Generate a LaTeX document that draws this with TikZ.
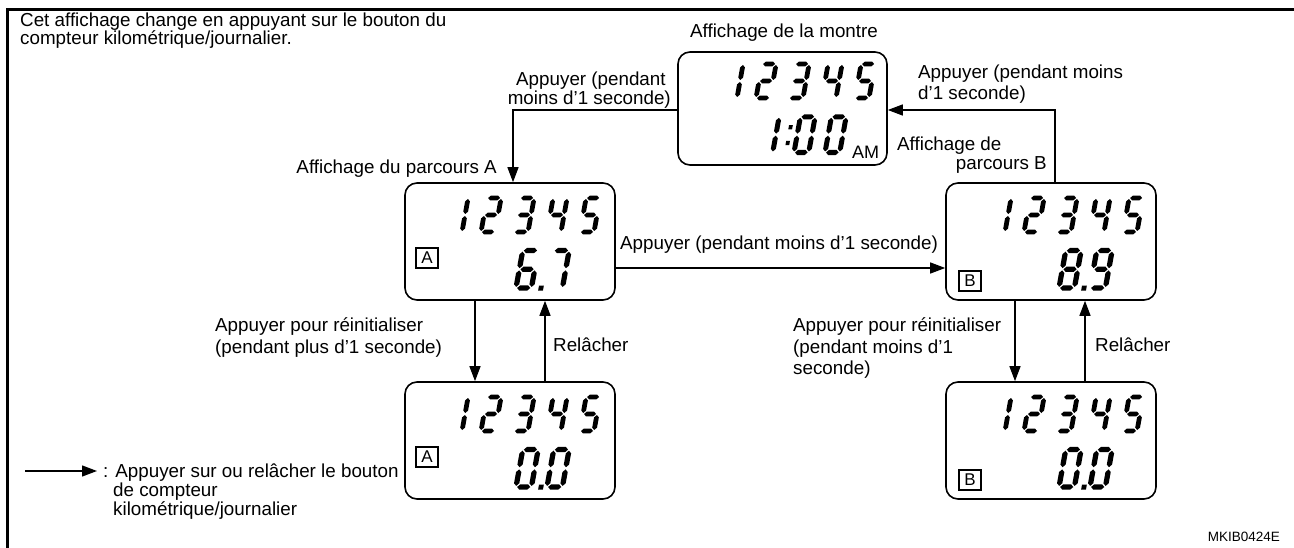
\documentclass[tikz,border=0pt]{standalone}
\usepackage{fontspec}
\setmainfont{Liberation Sans}
\usetikzlibrary{arrows.meta}

% --- seven-segment glyphs (local units, y up, origin = bottom-left corner line) ---
\newcommand\hseg[3]{\fill (#1,#3) -- ({#1+2.4},{#3+2.4}) -- ({#2-2.4},{#3+2.4}) -- (#2,#3) -- ({#2-2.4},{#3-2.4}) -- ({#1+2.4},{#3-2.4}) -- cycle;}
\newcommand\vseg[3]{\fill (#1,#2) -- ({#1+2.4},{#2+2.4}) -- ({#1+2.4},{#3-2.4}) -- (#1,#3) -- ({#1-2.4},{#3-2.4}) -- ({#1-2.4},{#2+2.4}) -- cycle;}
\newcommand\sgA{\hseg{1}{13}{34}}
\newcommand\sgB{\vseg{14}{18}{33}}
\newcommand\sgC{\vseg{14}{1}{16}}
\newcommand\sgD{\hseg{1}{13}{0}}
\newcommand\sgE{\vseg{0}{1}{16}}
\newcommand\sgF{\vseg{0}{18}{33}}
\newcommand\sgG{\hseg{1}{13}{17}}
% #1,#2: origin   #3: scale   #4: digit
\newcommand\sevdig[4]{%
  \begin{scope}[shift={(#1,#2)},xslant=0.18,x=#3pt,y=#3pt]
    \ifcase#4\relax
      \sgA\sgB\sgC\sgD\sgE\sgF
    \or \sgB\sgC
    \or \sgA\sgB\sgG\sgE\sgD
    \or \sgA\sgB\sgG\sgC\sgD
    \or \sgF\sgG\sgB\sgC
    \or \sgA\sgF\sgG\sgC\sgD
    \or \sgA\sgF\sgG\sgE\sgC\sgD
    \or \sgA\sgB\sgC
    \or \sgA\sgB\sgC\sgD\sgE\sgF\sgG
    \or \sgA\sgB\sgC\sgD\sgF\sgG
    \fi
  \end{scope}}
\newcommand\sevdot[3]{%
  \begin{scope}[shift={(#1,#2)},xslant=0.18,x=#3pt,y=#3pt]
    \fill (-2.2,-2.4) rectangle (2.2,2.2);
  \end{scope}}
\newcommand\sevcolon[3]{%
  \begin{scope}[shift={(#1,#2)},xslant=0.18,x=#3pt,y=#3pt]
    \fill (-1.8,7) rectangle (1.8,11);
    \fill (-1.8,22) rectangle (1.8,26);
  \end{scope}}
% five-digit odometer row
\newcommand\odorow[2]{%
  \sevdig{#1}{#2}{1}{1}\sevdig{#1+33}{#2}{1}{2}\sevdig{#1+66}{#2}{1}{3}%
  \sevdig{#1+99}{#2}{1}{4}\sevdig{#1+132}{#2}{1}{5}}

\begin{document}
\begin{tikzpicture}[x=1pt,y=-1pt,
  disp/.style={draw, line width=1.6pt, rounded corners=12pt, inner sep=0pt,
               minimum width=210pt, minimum height=117pt},
  tag/.style={draw, line width=1.3pt, inner sep=0pt, minimum width=22pt,
              minimum height=20pt, font=\fontsize{17}{17}\selectfont},
  lbl/.style={inner sep=0pt, anchor=base west, font=\fontsize{18.8}{20}\selectfont},
  lblr/.style={lbl, anchor=base east},
  lblc/.style={lbl, anchor=base},
  conn/.style={line width=1.3pt, -{Triangle[length=15pt,width=11pt]}},
]
\useasboundingbox (0,0) rectangle (1294,548);

% frame
\draw[line width=3pt] (7,548) -- (7,9.5) -- (1294,9.5);

% display panels
\node[disp, minimum width=209pt, minimum height=113pt] (clock) at (782.5,108.5) {};
\node[disp] (dA)  at (510,241.5)  {};
\node[disp] (dB)  at (1051,241.5) {};
\node[disp] (dA0) at (510,440.5)  {};
\node[disp] (dB0) at (1051,440.5) {};

% trip tags
\node[tag] (tagA)  at (427,258) {A};
\node[tag] (tagB)  at (970,281) {B};
\node[tag] (tagA0) at (427,457) {A};
\node[tag] (tagB0) at (970,480) {B};

% odometer rows
\odorow{723}{98}
\odorow{448}{232}
\odorow{991}{232}
\odorow{448}{431}
\odorow{991}{431}

% clock 1:00 AM
\sevdig{758}{152.5}{1.05}{1}
\sevcolon{786}{152.5}{1.05}
\sevdig{794}{152.5}{1.05}{0}
\sevdig{825}{152.5}{1.05}{0}
\node[lbl, font=\fontsize{18}{18}\selectfont] (am) at (852,159) {AM};

% trip A 6.7 / 0.0
\sevdig{516}{288}{1.1}{6}\sevdot{541}{288}{1.1}\sevdig{547}{288}{1.1}{7}
\sevdig{516}{487}{1.1}{0}\sevdot{541}{487}{1.1}\sevdig{547}{487}{1.1}{0}
% trip B 8.9 / 0.0
\sevdig{1059}{288}{1.1}{8}\sevdot{1084}{288}{1.1}\sevdig{1090}{288}{1.1}{9}
\sevdig{1059}{487}{1.1}{0}\sevdot{1084}{487}{1.1}\sevdig{1090}{487}{1.1}{0}

% connectors
\draw[conn] ([yshift=-1.5pt]clock.west) -| ([xshift=3pt]dA.north);
\draw[conn] ([xshift=4pt]dB.north) |- ([yshift=-1.5pt]clock.east);
\draw[conn] ([yshift=-26.5pt]dA.east) -- ([yshift=-26.5pt]dB.west);
\draw[conn] ([xshift=-35pt]dA.south) -- ([xshift=-35pt]dA0.north);
\draw[conn] ([xshift=35pt]dA0.north) -- ([xshift=35pt]dA.south);
\draw[conn] ([xshift=-36pt]dB.south) -- ([xshift=-36pt]dB0.north);
\draw[conn] ([xshift=34pt]dB0.north) -- ([xshift=34pt]dB.south);

% texts
\node[lbl] (intro1) at (20,27) {Cet affichage change en appuyant sur le bouton du};
\node[lbl] (intro2) at (20,45) {compteur kilométrique/journalier.};
\node[lblc] (tclock) at (784,38) {Affichage de la montre};
\node[lbl] (pl1) at (516,86) {Appuyer (pendant};
\node[lblr] (pl2) at (671,105) {moins d’1 seconde)};
\node[lbl] (pr1) at (918,79) {Appuyer (pendant moins};
\node[lbl] (pr2) at (918,100) {d’1 seconde)};
\node[lblr] (tA) at (497,174) {Affichage du parcours A};
\node[lbl] (tB1) at (897,151) {Affichage de};
\node[lblr] (tB2) at (1047,170) {parcours B};
\node[lbl] (pm) at (620,250) {Appuyer (pendant moins d’1 seconde)};
\node[lbl] (ra1) at (215,331) {Appuyer pour réinitialiser};
\node[lbl] (ra2) at (215,353) {(pendant plus d’1 seconde)};
\node[lbl] (rla) at (553,351) {Relâcher};
\node[lbl] (rb1) at (793,331) {Appuyer pour réinitialiser};
\node[lbl] (rb2) at (793,353) {(pendant moins d’1};
\node[lbl] (rb3) at (793,374) {seconde)};
\node[lbl] (rlb) at (1095,351) {Relâcher};

% legend
\coordinate (legS) at (25,471);
\coordinate (legE) at (97,471);
\draw[conn] (legS) -- (legE);
\node[lbl] (leg1) at (103,477) {: Appuyer sur ou relâcher le bouton};
\node[lbl] (leg2) at (113,496) {de compteur};
\node[lbl] (leg3) at (113,515) {kilométrique/journalier};

\node[lblr, font=\fontsize{13.5}{14}\selectfont] (code) at (1280,541) {MKIB0424E};
\end{tikzpicture}
\end{document}
